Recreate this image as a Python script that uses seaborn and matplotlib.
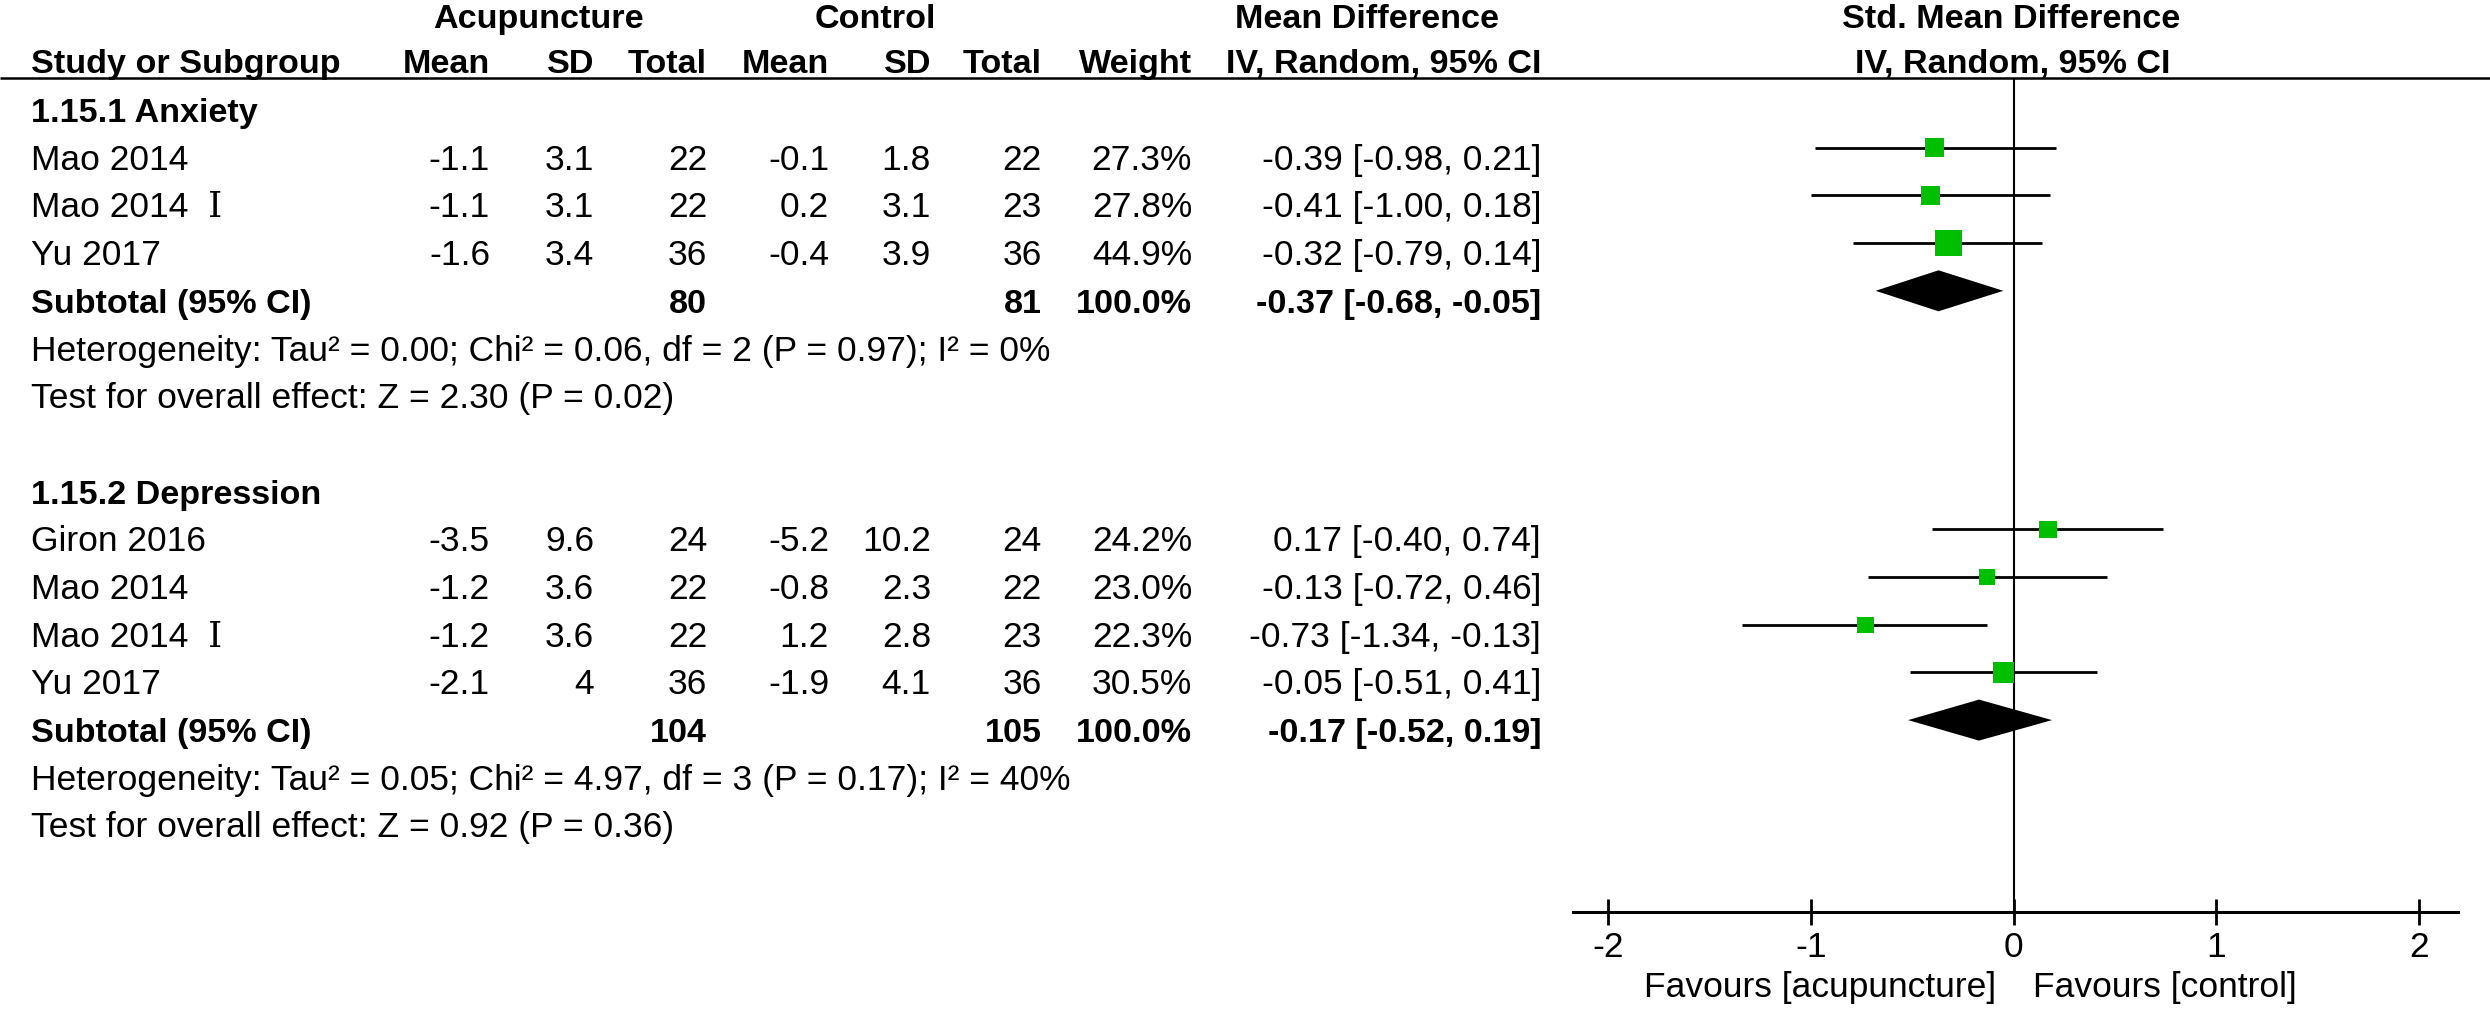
import numpy as np
import pandas as pd
import matplotlib
matplotlib.use("Agg")
import matplotlib.pyplot as plt
import seaborn as sns

# ---------------- data ----------------
group_titles = ["1.15.1 Anxiety", "1.15.2 Depression"]
group_of_study = [0, 0, 0, 1, 1, 1, 1]
studies = ["Mao 2014", "Mao 2014  Ⅰ", "Yu 2017",
           "Giron 2016", "Mao 2014", "Mao 2014  Ⅰ", "Yu 2017"]
acu_mean = [-1.1, -1.1, -1.6, -3.5, -1.2, -1.2, -2.1]
acu_sd = [3.1, 3.1, 3.4, 9.6, 3.6, 3.6, 4]
acu_n = [22, 22, 36, 24, 22, 22, 36]
ctl_mean = [-0.1, 0.2, -0.4, -5.2, -0.8, 1.2, -1.9]
ctl_sd = [1.8, 3.1, 3.9, 10.2, 2.3, 2.8, 4.1]
ctl_n = [22, 23, 36, 24, 22, 23, 36]
weight = [27.3, 27.8, 44.9, 24.2, 23.0, 22.3, 30.5]
smd = [-0.39, -0.41, -0.32, 0.17, -0.13, -0.73, -0.05]
smd_lo = [-0.98, -1.00, -0.79, -0.40, -0.72, -1.34, -0.51]
smd_hi = [0.21, 0.18, 0.14, 0.74, 0.46, -0.13, 0.41]

sub_acu_n = [80, 104]
sub_ctl_n = [81, 105]
sub_weight = [100.0, 100.0]
sub_smd = [-0.37, -0.17]
sub_lo = [-0.68, -0.52]
sub_hi = [-0.05, 0.19]
heterogeneity = [
    "Heterogeneity: Tau² = 0.00; Chi² = 0.06, df = 2 (P = 0.97); I² = 0%",
    "Heterogeneity: Tau² = 0.05; Chi² = 4.97, df = 3 (P = 0.17); I² = 40%",
]
overall = [
    "Test for overall effect: Z = 2.30 (P = 0.02)",
    "Test for overall effect: Z = 0.92 (P = 0.36)",
]
axis_ticks = [-2, -1, 0, 1, 2]
favours_left = "Favours [acupuncture]"
favours_right = "Favours [control]"

# ---------------- style ----------------
sns.set_style("white")
plt.rcParams["font.family"] = ["Liberation Sans", "DejaVu Sans"]
plt.rcParams["axes.unicode_minus"] = False

W, H = 2490, 1012
FS = 25.5
FS_B = 24.6
GREEN = "#00BF00"

fig = plt.figure(figsize=(W / 100, H / 100), dpi=100)
ax_t = fig.add_axes([0, 0, 1, 1])
ax_t.set_xlim(0, W)
ax_t.set_ylim(H, 0)
ax_t.axis("off")

# forest axes in pixel-aligned coordinates
zero_px, unit_px = 2013.5, 202.7
ax_left_px, ax_right_px = 1573, 2458
ax_top_px, ax_bot_px = 80, 913
ax_f = fig.add_axes([ax_left_px / W, (H - ax_bot_px) / H,
                     (ax_right_px - ax_left_px) / W, (ax_bot_px - ax_top_px) / H])
ax_f.patch.set_alpha(0)
ax_f.set_xlim((ax_left_px - zero_px) / unit_px, (ax_right_px - zero_px) / unit_px)
ax_f.set_ylim(ax_bot_px, ax_top_px)

# column positions (pixels)
x_study = 31
x_acu_mean, x_acu_sd, x_acu_n = 490, 594, 707
x_ctl_mean, x_ctl_sd, x_ctl_n = 829, 931, 1042
x_weight = 1192
x_effect = 1541

def txt(x, y, s, ha="left", bold=False, family=None):
    kw = {}
    if family is not None:
        kw["family"] = family
    ax_t.text(x, y, s, ha=ha, va="baseline", fontsize=FS_B if bold else FS,
              fontweight="bold" if bold else "normal", color="black", **kw)

# header
hb1, hb2 = 28, 73
txt(538, hb1, "Acupuncture", ha="center", bold=True)
txt(875, hb1, "Control", ha="center", bold=True)
txt(1367, hb1, "Mean Difference", ha="center", bold=True)
txt(2011, hb1, "Std. Mean Difference", ha="center", bold=True)
txt(x_study, hb2, "Study or Subgroup", bold=True)
txt(x_acu_mean, hb2, "Mean", ha="right", bold=True)
txt(x_acu_sd, hb2, "SD", ha="right", bold=True)
txt(x_acu_n, hb2, "Total", ha="right", bold=True)
txt(x_ctl_mean, hb2, "Mean", ha="right", bold=True)
txt(x_ctl_sd, hb2, "SD", ha="right", bold=True)
txt(x_ctl_n, hb2, "Total", ha="right", bold=True)
txt(x_weight, hb2, "Weight", ha="right", bold=True)
txt(x_effect, hb2, "IV, Random, 95% CI", ha="right", bold=True)
txt(2013, hb2, "IV, Random, 95% CI", ha="center", bold=True)
ax_t.plot([0, W], [79, 79], color="black", lw=1.8, solid_capstyle="butt")

# rows
row0, row_h = 122, 47.7
mark_off = -21
def base(k):
    return row0 + row_h * k

study_y = []
sub_y = []
k = 0
for g, title in enumerate(group_titles):
    txt(x_study, base(k), title, bold=True)
    k += 1
    for i in [j for j, gg in enumerate(group_of_study) if gg == g]:
        b = base(k)
        txt(x_study, b, studies[i], family=["Liberation Sans", "DejaVu Serif"])
        txt(x_acu_mean, b, f"{acu_mean[i]:g}", ha="right")
        txt(x_acu_sd, b, f"{acu_sd[i]:g}", ha="right")
        txt(x_acu_n, b, f"{acu_n[i]}", ha="right")
        txt(x_ctl_mean, b, f"{ctl_mean[i]:g}", ha="right")
        txt(x_ctl_sd, b, f"{ctl_sd[i]:g}", ha="right")
        txt(x_ctl_n, b, f"{ctl_n[i]}", ha="right")
        txt(x_weight, b, f"{weight[i]:.1f}%", ha="right")
        txt(x_effect, b, f"{smd[i]:.2f} [{smd_lo[i]:.2f}, {smd_hi[i]:.2f}]", ha="right")
        study_y.append(b + mark_off)
        k += 1
    b = base(k)
    txt(x_study, b, "Subtotal (95% CI)", bold=True)
    txt(x_acu_n, b, f"{sub_acu_n[g]}", ha="right", bold=True)
    txt(x_ctl_n, b, f"{sub_ctl_n[g]}", ha="right", bold=True)
    txt(x_weight, b, f"{sub_weight[g]:.1f}%", ha="right", bold=True)
    txt(x_effect, b, f"{sub_smd[g]:.2f} [{sub_lo[g]:.2f}, {sub_hi[g]:.2f}]", ha="right", bold=True)
    sub_y.append(b + mark_off)
    k += 1
    txt(x_study, base(k), heterogeneity[g])
    k += 1
    txt(x_study, base(k), overall[g])
    k += 2

# forest: zero line, CIs, squares, diamonds
ax_f.axvline(0, color="black", lw=1.5, zorder=1)
df = pd.DataFrame({"smd": smd, "lo": smd_lo, "hi": smd_hi,
                   "weight": weight, "y": study_y})
ax_f.hlines(df["y"], df["lo"], df["hi"], color="black", lw=2.0, zorder=2)
sns.scatterplot(data=df, x="smd", y="y", size="weight", sizes=(135, 370),
                marker="s", color=GREEN, edgecolor="none", linewidth=0,
                legend=False, ax=ax_f, zorder=3)
half_h = 20.5
for g in range(len(sub_smd)):
    y = sub_y[g]
    ax_f.fill([sub_lo[g], sub_smd[g], sub_hi[g], sub_smd[g]],
              [y, y - half_h, y, y + half_h], color="black", lw=0, zorder=3)

ax_f.set_xlabel("")
ax_f.set_ylabel("")
ax_f.set_yticks([])
ax_f.set_xticks(axis_ticks)
ax_f.set_xticklabels([f"{t:d}" for t in axis_ticks])
for s in ["top", "left", "right"]:
    ax_f.spines[s].set_visible(False)
ax_f.spines["bottom"].set_linewidth(2.2)
ax_f.spines["bottom"].set_color("black")
ax_f.tick_params(axis="x", direction="inout", length=18.5, width=2.0,
                 labelsize=FS, pad=4, colors="black", bottom=True)

txt(1996, 997, favours_left, ha="right")
txt(2033, 997, favours_right, ha="left")

fig.savefig("out.png", dpi=100)
